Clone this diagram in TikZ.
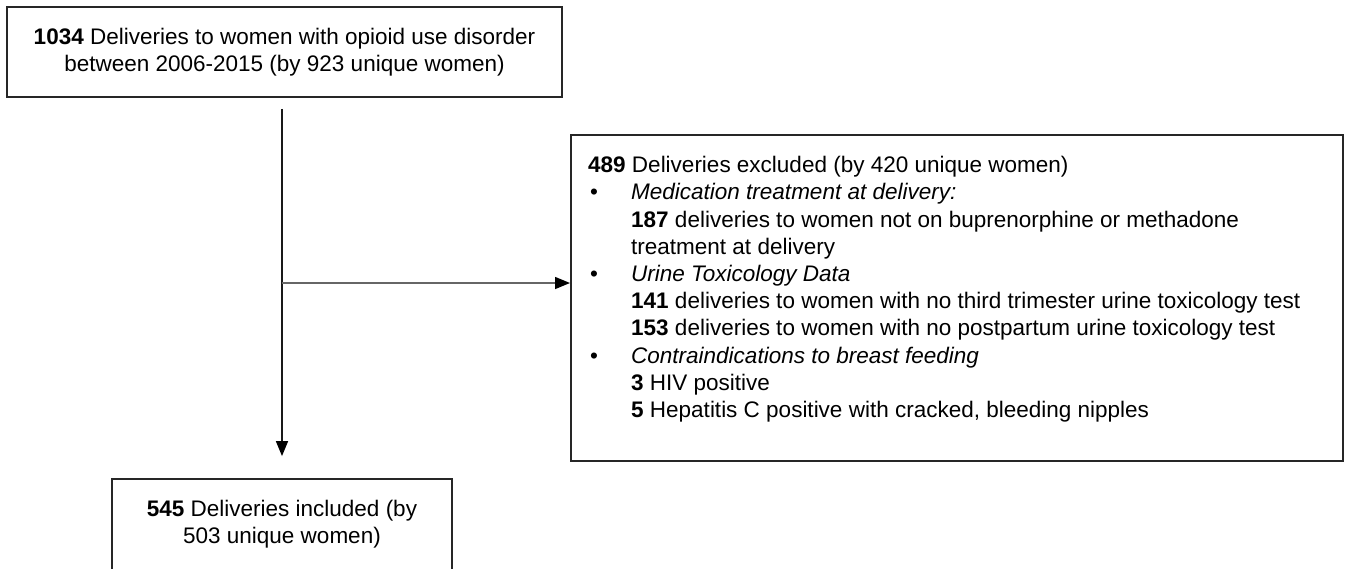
\documentclass[tikz,border=0pt]{standalone}
\usepackage{fontspec}
\setmainfont{Liberation Sans}
\usetikzlibrary{arrows.meta}
\begin{document}
\begin{tikzpicture}[x=1pt,y=-1pt,
  box/.style={draw=black!85, line width=1.8pt, inner sep=0pt, align=center,
    font=\fontsize{22.5}{27.2}\selectfont},
  flow/.style={line width=1.5pt, -{Triangle[length=15pt,width=12pt,fill=black,color=black]}},
  plain/.style={draw=black!85, line width=1.8pt}]
\useasboundingbox (0,0) rectangle (1346,568);
\fill[white] (0,0) rectangle (1346,568);
% top box
\node[box, minimum width=555pt, minimum height=90pt] (top) at (284.5,52)
  {\textbf{1034} Deliveries to women with opioid use disorder\\between 2006-2015 (by 923 unique women)};
% bottom box
\node[box, minimum width=340pt, minimum height=90.5pt] (incl) at (282,524.25)
  {\textbf{545} Deliveries included (by\\503 unique women)};
% excluded box
\node[box, anchor=north west, minimum width=772pt, minimum height=326pt] (excl) at (570,134) {};
\node[anchor=base west, inner sep=0pt] (excltext) at (588,172.7) {\parbox[t]{740pt}{\fontsize{22.5}{27.2}\selectfont
\textbf{489} Deliveries excluded (by 420 unique women)\\
\makebox[43pt][l]{\hspace*{2pt}\textbullet}\textit{Medication treatment at delivery:}\\
\hspace*{43pt}\textbf{187} deliveries to women not on buprenorphine or methadone\\
\hspace*{43pt}treatment at delivery\\
\makebox[43pt][l]{\hspace*{2pt}\textbullet}\textit{Urine Toxicology Data}\\
\hspace*{43pt}\textbf{141} deliveries to women with no third trimester urine toxicology test\\
\hspace*{43pt}\textbf{153} deliveries to women with no postpartum urine toxicology test\\
\makebox[43pt][l]{\hspace*{2pt}\textbullet}\textit{Contraindications to breast feeding}\\
\hspace*{43pt}\textbf{3} HIV positive\\
\hspace*{43pt}\textbf{5} Hepatitis C positive with cracked, bleeding nipples}};
% connectors
\coordinate (branch) at (282,283);
\draw[flow, draw=black!90, shorten <=11pt, shorten >=22pt] (top.south -| incl.north) -- (incl.north);
\draw[flow, draw=black!60] (branch) -- (branch -| excl.west);
\end{tikzpicture}
\end{document}
